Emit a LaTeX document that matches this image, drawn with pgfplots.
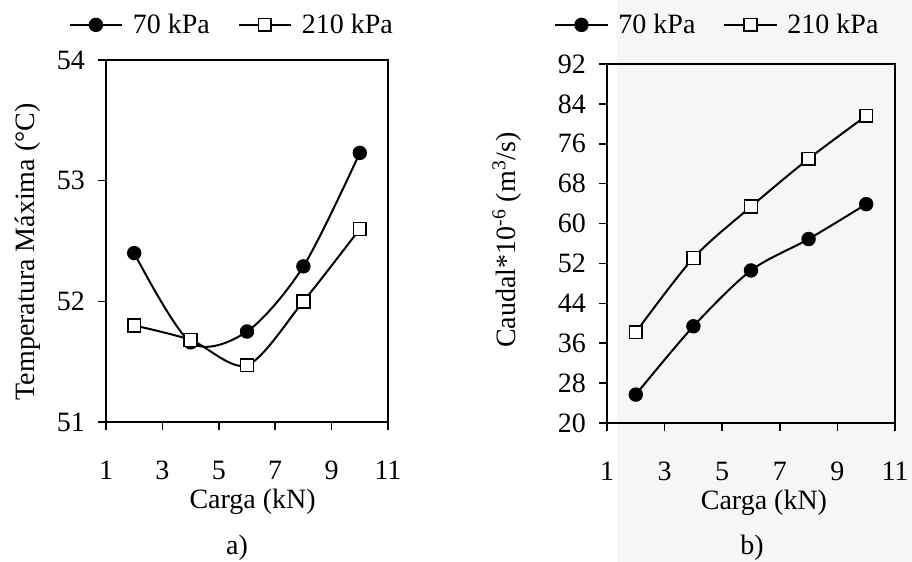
\documentclass[border=0pt]{standalone}
\usepackage{fontspec}
\setmainfont{Liberation Serif}
\usepackage{pgfplots}
\pgfplotsset{compat=1.18}

\newcommand{\f}{\fontsize{14bp}{16bp}\selectfont}

\pgfplotsset{
  panel/.style={
    scale only axis,
    xmin=1, xmax=11, xtick={1,3,5,7,9,11},
    tick align=outside, xtick pos=bottom, ytick pos=left,
    major tick length=4bp,
    axis line style={line width=1bp},
    every tick/.style={black, line width=0.8bp},
    /pgf/number format/assume math mode=true,
    tick label style={font=\f},
    xticklabel style={yshift=-12bp},
    yticklabel style={xshift=-3bp},
    legend columns=2,
    legend style={draw=none, fill=none, font=\f, anchor=center,
      /tikz/every odd column/.append style={column sep=3bp},
      /tikz/every even column/.append style={column sep=12bp}},
    legend image code/.code={
      \draw[mark repeat=2, mark phase=2, #1] plot coordinates {(0bp,0bp) (13bp,0bp) (26bp,0bp)};
    },
  },
  s70/.style={black, line width=1bp, smooth, mark=*, mark size=3.2bp,
    mark options={fill=black, line width=0.8bp}},
  s210/.style={black, line width=1bp, smooth, mark=square*, mark size=3.2bp,
    mark options={fill=white, line width=0.8bp}},
}

\begin{document}
\begin{tikzpicture}
\useasboundingbox (0,0) rectangle (456bp,-281bp);
\fill[gray!7] (308.5bp,0bp) rectangle (456bp,-281bp);

% a) temperatura maxima
\begin{axis}[panel,
  at={(53bp,-211bp)}, anchor=south west,
  width=141bp, height=181bp,
  ymin=51, ymax=54, ytick={51,52,53,54},
  xlabel={Carga (kN)},
  ylabel={Temperatura Máxima (°C)},
  every axis x label/.style={at={(axis description cs:0.52,0)}, anchor=center, yshift=-40bp, font=\f},
  every axis y label/.style={at={(axis description cs:-0.277,0.47)}, anchor=center, rotate=90, font=\f},
  legend style={at={(axis description cs:0.45,1.097)}},
]
\addplot[s70] coordinates {(2,52.4) (4,51.66) (6,51.75) (8,52.29) (10,53.23)};
\addplot[s210] coordinates {(2,51.8) (4,51.68) (6,51.47) (8,52.0) (10,52.6)};
\legend{70 kPa, 210 kPa}
\end{axis}

% b) caudal
\begin{axis}[panel,
  at={(303.5bp,-211.5bp)}, anchor=south west,
  width=144bp, height=179.5bp,
  ymin=20, ymax=92, ytick={20,28,...,92},
  xlabel={Carga (kN)},
  ylabel={Caudal*10\textsuperscript{-6} (m\textsuperscript{3}/s)},
  every axis x label/.style={at={(axis description cs:0.545,0)}, anchor=center, yshift=-40bp, font=\f},
  every axis y label/.style={at={(axis description cs:-0.347,0.51)}, anchor=center, rotate=90, font=\f},
  legend style={at={(axis description cs:0.387,1.109)}},
]
\addplot[s70] coordinates {(2,25.7) (4,39.4) (6,50.6) (8,56.9) (10,63.9)};
\addplot[s210] coordinates {(2,38.2) (4,53.1) (6,63.4) (8,73.0) (10,81.6)};
\legend{70 kPa, 210 kPa}
\end{axis}

\node[font=\f] at (118.5bp,-274bp) {a)};
\node[font=\f] at (376bp,-274bp) {b)};
\end{tikzpicture}
\end{document}
